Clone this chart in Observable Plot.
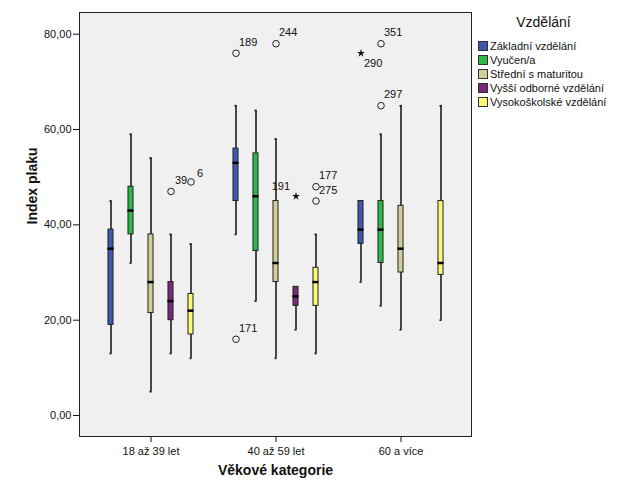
<!DOCTYPE html>
<html>
<head>
<meta charset="utf-8">
<script src="https://cdn.jsdelivr.net/npm/d3@7"></script>
<script src="https://cdn.jsdelivr.net/npm/@observablehq/plot@0.6"></script>
<style>
  body { margin: 0; background: #fff; font-family: "Liberation Sans", Arial, sans-serif; }
  #wrap { position: relative; width: 627px; height: 502px; }
  #legend { position: absolute; left: 476px; top: 14px; width: 135px; color: #111; }
  #legend .title { font-size: 14px; line-height: 16px; text-align: center; margin-bottom: 9px; }
  #legend .item { display: flex; align-items: center; height: 14px; font-size: 11px; white-space: nowrap; }
  #legend .sw { width: 8px; height: 8px; border: 1px solid #333; margin-left: 2px; margin-right: 2px; flex: none; }
</style>
</head>
<body>
<div id="wrap"><div id="chart"></div><div id="legend"></div></div>
<script>
// ---- data ----
const ages = ["18 až 39 let", "40 až 59 let", "60 a více"];
const levels = ["Základní vzdělání", "Vyučen/a", "Střední s maturitou", "Vyšší odborné vzdělání", "Vysokoškolské vzdělání"];
const colors = ["#3E58AC", "#2EB848", "#D3CE97", "#7C287D", "#FBF873"];
// [level][age]
const whiskerLow  = [[13, 38, 28], [32, 24, 23], [5, 12, 18], [13, 18, null], [12, 13, 20]];
const quartile1   = [[19, 45, 36], [38, 34.5, 32], [21.5, 28, 30], [20, 23, null], [17, 23, 29.5]];
const medians     = [[35, 53, 39], [43, 46, 39], [28, 32, 35], [24, 25, null], [22, 28, 32]];
const quartile3   = [[39, 56, 45], [48, 55, 45], [38, 45, 44], [28, 27, null], [25.5, 31, 45]];
const whiskerHigh = [[45, 65, 45], [59, 64, 59], [54, 58, 65], [38, 27, null], [36, 38, 65]];
// outliers
const outlierAge     = [0, 0, 1, 1, 1, 1, 1, 1, 2, 2, 2];
const outlierLevel   = [3, 4, 0, 0, 2, 3, 4, 4, 0, 1, 1];
const outlierValue   = [47, 49, 76, 16, 78, 46, 48, 45, 76, 78, 65];
const outlierCase    = ["39", "6", "189", "171", "244", "191", "177", "275", "290", "351", "297"];
const outlierExtreme = [false, false, false, false, false, true, false, false, true, false, false];
const yTicks = [0, 20, 40, 60, 80];

// ---- layout / style ----
const W = 627, H = 502;
const mL = 79, mR = 156, mT = 12, mB = 66;
const padOuter = 0.056;
const step = (W - mL - mR) / (ages.length + 2 * padOuter);
const seriesStep = 20;
const boxW = 6, medW = 7, capW = 3;
const labelPlace = {
  "6":   {dx: 6, dy: -8, anchor: "start"},
  "39":  {dx: 4, dy: -11, anchor: "start"},
  "191": {dx: -6, dy: -10, anchor: "end"},
  "290": {dx: 3, dy: 10, anchor: "start"}
};
const defaultPlace = {dx: 3, dy: -11, anchor: "start"};

const rows = levels.flatMap((lv, i) => ages.map((a, j) => ({
  age: a, level: lv, i,
  lo: whiskerLow[i][j], q1: quartile1[i][j], med: medians[i][j], q3: quartile3[i][j], hi: whiskerHigh[i][j]
}))).filter(d => d.q1 != null);

const outliers = outlierValue.map((v, k) => ({
  age: ages[outlierAge[k]], i: outlierLevel[k], value: v, id: outlierCase[k], extreme: outlierExtreme[k]
}));

const marks = [Plot.frame({fill: "#F0F0F0", stroke: null})];

levels.forEach((lv, i) => {
  const off = (i - (levels.length - 1) / 2) * seriesStep;
  const data = rows.filter(d => d.i === i);
  marks.push(
    Plot.ruleX(data.filter(d => d.lo < d.q1), {x: "age", y1: "lo", y2: "q1", dx: off, stroke: "#111", strokeWidth: 1.5}),
    Plot.ruleX(data.filter(d => d.hi > d.q3), {x: "age", y1: "q3", y2: "hi", dx: off, stroke: "#111", strokeWidth: 1.5}),
    Plot.tickY(data.filter(d => d.lo < d.q1), {x: "age", y: "lo", dx: off, stroke: "#111", strokeWidth: 1.6, insetLeft: (step - capW) / 2, insetRight: (step - capW) / 2}),
    Plot.tickY(data.filter(d => d.hi > d.q3), {x: "age", y: "hi", dx: off, stroke: "#111", strokeWidth: 1.6, insetLeft: (step - capW) / 2, insetRight: (step - capW) / 2}),
    Plot.barY(data, {x: "age", y1: "q1", y2: "q3", dx: off, fill: colors[i], stroke: "#222", strokeWidth: 1, insetLeft: (step - boxW) / 2, insetRight: (step - boxW) / 2}),
    Plot.tickY(data, {x: "age", y: "med", dx: off, stroke: "#000", strokeWidth: 2.5, insetLeft: (step - medW) / 2, insetRight: (step - medW) / 2})
  );
});

outliers.forEach(o => {
  const off = (o.i - (levels.length - 1) / 2) * seriesStep;
  const p = labelPlace[o.id] || defaultPlace;
  marks.push(
    o.extreme
      ? Plot.dot([o], {x: "age", y: "value", dx: off, symbol: "star", r: 2.5, fill: "#111", stroke: null})
      : Plot.dot([o], {x: "age", y: "value", dx: off, r: 3.3, fill: "none", stroke: "#222", strokeWidth: 1}),
    Plot.text([o], {x: "age", y: "value", text: "id", dx: off + p.dx, dy: p.dy, textAnchor: p.anchor, fontSize: 11, fill: "#111"})
  );
});

marks.push(
  Plot.frame({stroke: "#222", strokeWidth: 1}),
  Plot.text(["Index plaku"], {frameAnchor: "left", dx: -47, rotate: -90, fontWeight: "bold", fontSize: 14, fill: "#111"}),
  Plot.text(["Věkové kategorie"], {frameAnchor: "bottom", dy: 38, fontWeight: "bold", fontSize: 14, fill: "#111"})
);

const chart = Plot.plot({
  width: W, height: H,
  marginLeft: mL, marginRight: mR, marginTop: mT, marginBottom: mB,
  style: {background: "white", fontFamily: "'Liberation Sans', Arial, sans-serif", fontSize: "11px", color: "#111"},
  x: {type: "band", domain: ages, paddingInner: 0, paddingOuter: padOuter, label: null, tickSize: 6, tickPadding: 5},
  y: {domain: [-4.4, 84.55], ticks: yTicks, tickFormat: v => v.toFixed(2).replace(".", ","), label: null, tickSize: 6, tickPadding: 2},
  marks
});
document.getElementById("chart").appendChild(chart);

// legend
const leg = document.getElementById("legend");
const t = document.createElement("div");
t.className = "title"; t.textContent = "Vzdělání";
leg.appendChild(t);
levels.forEach((lv, i) => {
  const it = document.createElement("div");
  it.className = "item";
  const sw = document.createElement("span");
  sw.className = "sw"; sw.style.background = colors[i];
  const tx = document.createElement("span");
  tx.textContent = lv;
  it.appendChild(sw); it.appendChild(tx);
  leg.appendChild(it);
});
</script>
</body>
</html>
